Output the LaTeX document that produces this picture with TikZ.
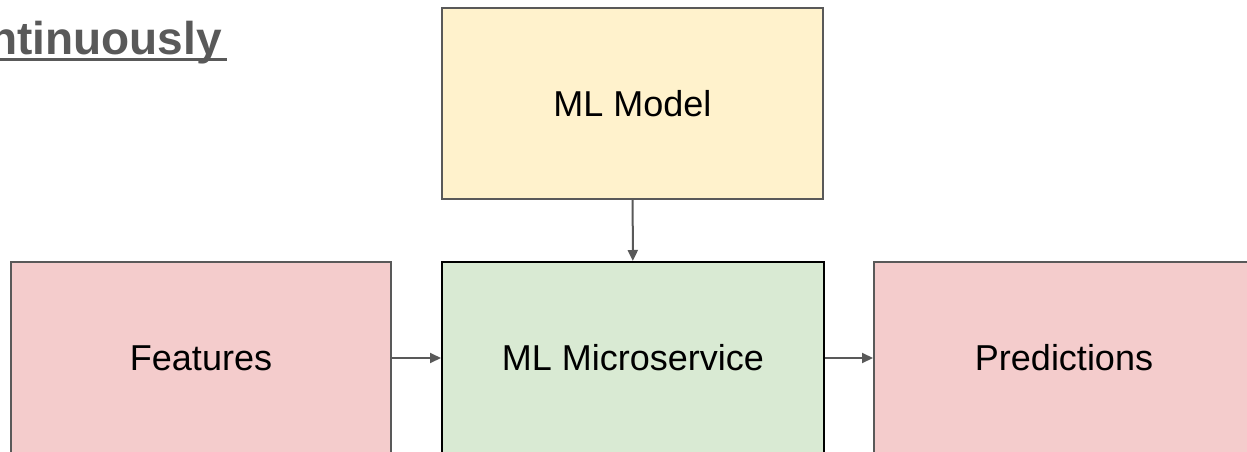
\documentclass[tikz,border=0pt]{standalone}
\usepackage{fontspec}
\setmainfont{Liberation Sans}
\usetikzlibrary{arrows.meta}
\definecolor{edgegray}{HTML}{595959}
\definecolor{modelfill}{HTML}{FFF2CC}
\definecolor{datafill}{HTML}{F4CCCC}
\definecolor{servicefill}{HTML}{D9EAD3}

\begin{document}
\begin{tikzpicture}[x=1pt, y=-1pt,
  box/.style={draw=edgegray, line width=2pt, minimum width=380pt, minimum height=192pt,
    inner sep=0pt, font=\fontsize{36}{40}\selectfont},
  link/.style={draw=edgegray, line width=2pt, -{Triangle[length=11pt, width=10pt]}}]
\useasboundingbox (0,0) rectangle (1247,452);
\clip (0,0) rectangle (1247,452);
\node[anchor=base east, text=edgegray, inner sep=0pt,
  font=\fontsize{46}{50}\selectfont\bfseries] (title) at (222,55) {ntinuously};
\fill[edgegray] (0,58.5) rectangle (227,61.5);
\node[box, fill=modelfill, minimum width=381pt, minimum height=191pt] (model) at (632.5,103.5) {ML Model};
\node[box, fill=datafill] (features) at (201,358) {Features};
\node[box, fill=servicefill, draw=black, minimum width=382pt] (service) at (633,358) {ML Microservice};
\node[box, fill=datafill] (predictions) at (1064,358) {Predictions};
\draw[link] (model) -- (service);
\draw[link] (features) -- (service);
\draw[link] (service) -- (predictions);
\end{tikzpicture}
\end{document}
